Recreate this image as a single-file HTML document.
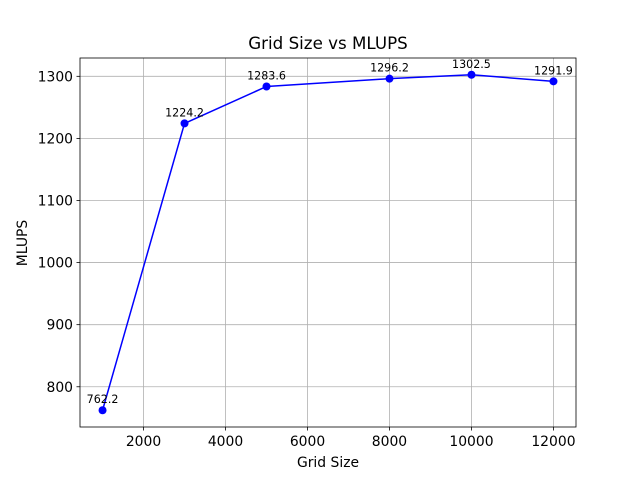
<!DOCTYPE html>
<html><head><meta charset="utf-8"><style>
body{margin:0;background:#fff;}
svg{display:block;font-family:"DejaVu Sans","Liberation Sans",sans-serif;}
</style></head><body>
<svg id="chart" width="640" height="480" viewBox="0 0 640 480">
<rect width="640" height="480" fill="#fff"/>
<text x="328" y="49" text-anchor="middle" font-size="16.7">Grid Size vs MLUPS</text>
<text x="328" y="467" text-anchor="middle" font-size="13.9">Grid Size</text>
<text transform="translate(27,243) rotate(-90)" text-anchor="middle" font-size="13.9">MLUPS</text>
<g id="grid"></g><g id="ticks"></g><g id="series"></g>
<rect x="80" y="58" width="496" height="369" fill="none" stroke="#000" stroke-width="0.8"/>
</svg>
<script>
const gridSizes=[1000,3000,5000,8000,10000,12000];
const mlups=[762.2,1224.2,1283.6,1296.2,1302.5,1291.9];
const valueLabels=["762.2","1224.2","1283.6","1296.2","1302.5","1291.9"];
const xTicks=[2000,4000,6000,8000,10000,12000];
const yTicks=[800,900,1000,1100,1200,1300];
const L=80,R=576,T=58,B=427;
const xmin=450,xmax=12550,ymin=735.2,ymax=1329.5;
const sx=v=>L+(v-xmin)/(xmax-xmin)*(R-L);
const sy=v=>B-(v-ymin)/(ymax-ymin)*(B-T);
const NS="http://www.w3.org/2000/svg";
function mk(tag,attrs,parent){const e=document.createElementNS(NS,tag);for(const k in attrs)e.setAttribute(k,attrs[k]);document.getElementById(parent).appendChild(e);return e;}
xTicks.forEach(v=>{const x=sx(v);
 let g=mk('line',{x1:x,x2:x,y1:T,y2:B,stroke:'#b0b0b0','stroke-width':0.8},'grid');
 
 
 let t=mk('line',{x1:x,x2:x,y1:B,y2:B+3.5,stroke:'#000','stroke-width':0.8},'ticks');
 
 
 let l=mk('text',{x:x,y:B+19,'text-anchor':'middle','font-size':13.9},'ticks');l.textContent=v;
 
 
});
yTicks.forEach(v=>{const y=sy(v);
 let g=mk('line',{x1:L,x2:R,y1:y,y2:y,stroke:'#b0b0b0','stroke-width':0.8},'grid');
 
 
 let t=mk('line',{x1:L-3.5,x2:L,y1:y,y2:y,stroke:'#000','stroke-width':0.8},'ticks');
 
 
 let l=mk('text',{x:L-7,y:y+5,'text-anchor':'end','font-size':13.9},'ticks');l.textContent=v;
 
 
});
const pts=gridSizes.map((g,i)=>sx(g)+','+sy(mlups[i])).join(' ');
let pl=mk('polyline',{points:pts,fill:'none',stroke:'#0000ff','stroke-width':1.5},'series');


gridSizes.forEach((g,i)=>{
 let c=mk('circle',{cx:sx(g),cy:sy(mlups[i]),r:4,fill:'#0000ff'},'series');
 
 
 let t=mk('text',{x:sx(g),y:sy(mlups[i])-7,'text-anchor':'middle','font-size':11.1},'series');
 t.textContent=valueLabels[i];
 
 
});
</script>
</body></html>
